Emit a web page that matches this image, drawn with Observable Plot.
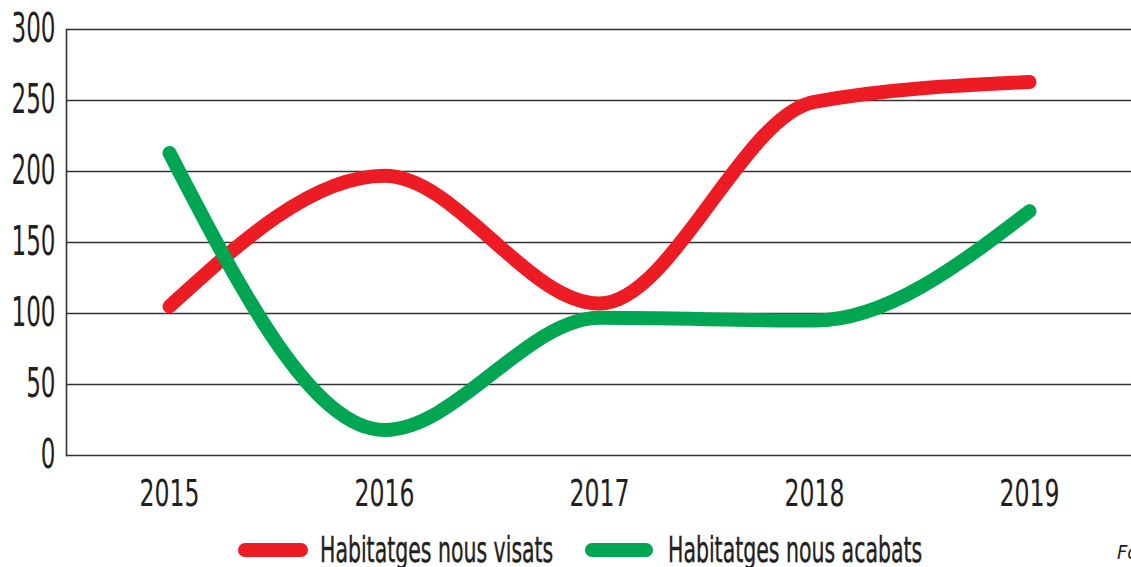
<!DOCTYPE html>
<html><head><meta charset="utf-8">
<script src="https://cdn.jsdelivr.net/npm/d3@7"></script>
<script src="https://cdn.jsdelivr.net/npm/@observablehq/plot@0.6"></script>
<style>
html,body{margin:0;padding:0;background:#fff;overflow:hidden;}
body{font-family:"DejaVu Sans Condensed","Liberation Sans Narrow",sans-serif;color:#231f20;width:1131px;height:567px;}
#legend{position:relative;height:47px;width:1131px;overflow:hidden;}
.sw{position:absolute;height:14px;border-radius:7px;}
.lt{position:absolute;font-size:35px;line-height:1;white-space:nowrap;transform-origin:left center;transform:scaleX(0.65);-webkit-text-stroke:0.4px #231f20;}
.src{position:absolute;font-size:20px;font-style:italic;white-space:nowrap;}
</style></head><body>
<div id="chart"></div>
<div id="legend"></div>
<script>
const years = ["2015","2016","2017","2018","2019"];
const visats = [105, 197, 107, 249, 263];
const acabats = [213, 18, 97, 95, 172];
const seriesNames = ["Habitatges nous visats", "Habitatges nous acabats"];
const colors = ["#ed1c24", "#00a651"];
const yTicks = [0, 50, 100, 150, 200, 250, 300];

const data = [];
years.forEach((y, i) => {
  data.push({year: y, value: visats[i], series: seriesNames[0]});
  data.push({year: y, value: acabats[i], series: seriesNames[1]});
});

const chart = Plot.plot({
  width: 1131,
  height: 520,
  marginLeft: 66,
  marginRight: 0,
  marginTop: 29,
  marginBottom: 65,
  style: {fontFamily: '"DejaVu Sans Condensed","Liberation Sans Narrow",sans-serif', color: "#231f20", background: "#fff"},
  x: {type: "point", domain: years, padding: 0.47, label: null},
  y: {domain: [0, 300], label: null},
  color: {domain: seriesNames, range: colors},
  marks: [
    Plot.ruleY(yTicks, {stroke: "#333", strokeWidth: 1.6}),
    Plot.frame({anchor: "left", stroke: "#333", strokeWidth: 1.6}),
    Plot.axisY({ticks: yTicks, tickSize: 0, tickPadding: 11, fontSize: 40, label: null, stroke: "#231f20", strokeWidth: 0.5}),
    Plot.axisX({tickSize: 0, tickPadding: 24, fontSize: 37, label: null, stroke: "#231f20", strokeWidth: 0.5}),
    Plot.line(data, {x: "year", y: "value", z: "series", stroke: "series", curve: "monotone-x", strokeWidth: 14, strokeLinecap: "round", strokeLinejoin: "round"})
  ]
});
document.getElementById("chart").appendChild(chart);

// condense tick labels horizontally
d3.select(chart).selectAll("g[aria-label='y-axis tick label'] text")
  .attr("transform", function(){ return (this.getAttribute("transform") || "") + " scale(0.64,1)"; });
d3.select(chart).selectAll("g[aria-label='x-axis tick label'] text")
  .attr("transform", function(){ return (this.getAttribute("transform") || "") + " scale(0.71,1)"; });

const legend = document.getElementById("legend");
const items = [
  {name: seriesNames[0], color: colors[0], sx: 238, sw: 70, tx: 320},
  {name: seriesNames[1], color: colors[1], sx: 585, sw: 68, tx: 668}
];
items.forEach(it => {
  const s = document.createElement("div");
  s.className = "sw"; s.style.left = it.sx + "px"; s.style.top = "23px"; s.style.width = it.sw + "px"; s.style.background = it.color;
  legend.appendChild(s);
  const t = document.createElement("div");
  t.className = "lt"; t.style.left = it.tx + "px"; t.style.top = "13px"; t.textContent = it.name;
  legend.appendChild(t);
});
const src = document.createElement("div");
src.className = "src"; src.style.left = "1117px"; src.style.top = "20px"; src.textContent = "Font: Ajuntament";
legend.appendChild(src);
</script>
</body></html>
